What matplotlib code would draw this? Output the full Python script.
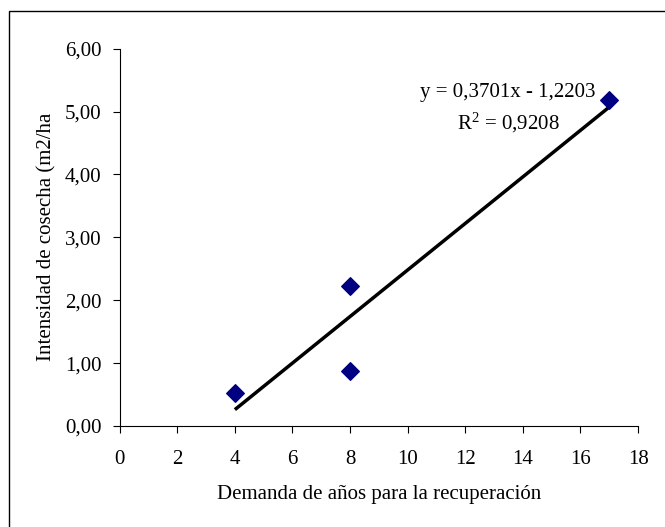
import matplotlib
matplotlib.use("Agg")
import matplotlib.pyplot as plt
from matplotlib.patches import Rectangle

# recovery years vs harvest intensity
anios = [4, 8, 8, 17]
intensidad = [0.52, 2.23, 0.88, 5.18]
pendiente = 0.3701
intercepto = -1.2203
r2 = 0.9208

plt.rcParams['font.family'] = ['Liberation Serif', 'DejaVu Serif']
plt.rcParams['mathtext.fontset'] = 'custom'
plt.rcParams['mathtext.rm'] = 'Liberation Serif'
plt.rcParams['mathtext.it'] = 'Liberation Serif:italic'
fs = 15

fig = plt.figure(figsize=(6.65, 5.27), dpi=100)
ax = fig.add_axes([0.18, 0.1917, 0.7795, 0.716])

# outer chart frame
fig.patches.append(Rectangle((8.5 / 665, -0.05), 1.0, 1 - 11 / 527 + 0.05,
                             transform=fig.transFigure, fill=False,
                             edgecolor='black', linewidth=1.0))

# trendline over the data range
x0, x1 = min(anios), max(anios)
ax.plot([x0, x1], [pendiente * x0 + intercepto, pendiente * x1 + intercepto],
        color='black', linewidth=2.5, solid_capstyle='butt', zorder=2)
ax.scatter(anios, intensidad, marker='D', s=80, color='#000080', zorder=3)

ax.set_xlim(0, 18)
ax.set_ylim(0, 6)
ax.set_xticks(range(0, 19, 2))
ax.set_yticks(range(0, 7))
ax.set_yticklabels([('%.2f' % v).replace('.', ',') for v in range(0, 7)])

for s in ['top', 'right']:
    ax.spines[s].set_visible(False)
for s in ['left', 'bottom']:
    ax.spines[s].set_linewidth(0.8)
ax.tick_params(direction='out', length=5, width=0.8, labelsize=fs, pad=8)
ax.tick_params(axis='x', pad=12)

ax.set_xlabel('Demanda de años para la recuperación', fontsize=fs)
ax.set_ylabel('Intensidad de cosecha (m2/ha', fontsize=fs)
ax.xaxis.set_label_coords(0.5, -0.1805)
ax.yaxis.set_label_coords(-0.141, 0.5)
ax.xaxis.label.set_va('center')
ax.yaxis.label.set_va('center')

ax.text(13.49, 5.30, 'y = %sx - %s' % (('%.4f' % pendiente).replace('.', ','),
                                      ('%.4f' % -intercepto).replace('.', ',')),
        fontsize=fs, ha='center', va='center')
ax.text(13.49, 4.82, 'R$^{\\mathrm{2}}$ = %s' % ('%.4f' % r2).replace('.', ','),
        fontsize=fs, ha='center', va='center')

fig.savefig('out.png', dpi=100)
